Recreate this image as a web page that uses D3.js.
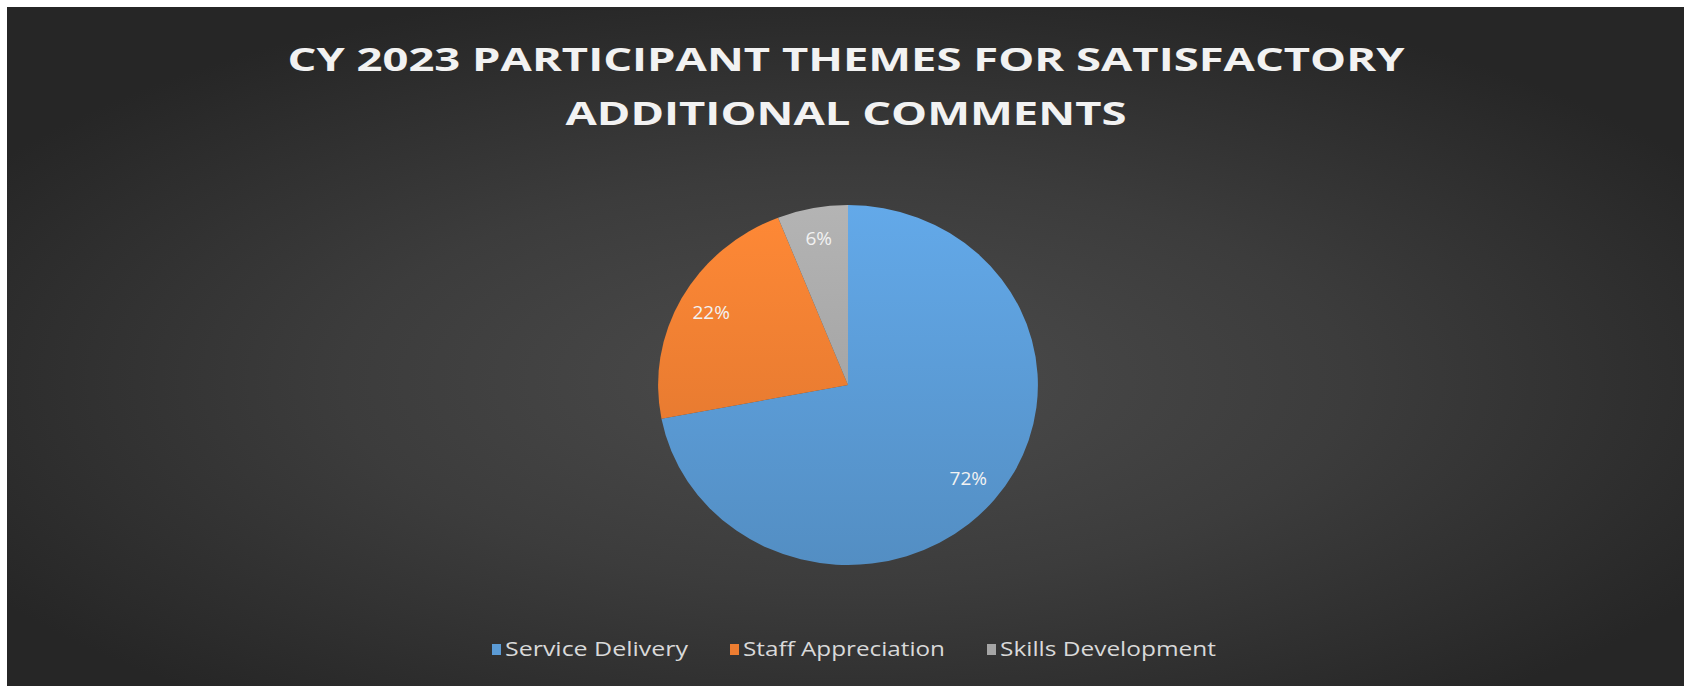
<!DOCTYPE html>
<html>
<head>
<meta charset="utf-8">
<script src="https://cdn.jsdelivr.net/npm/d3@7"></script>
<style>
  html, body { margin: 0; padding: 0; background: #ffffff; }
  svg { display: block; }
</style>
</head>
<body>
<script>
// Chart data
const categories = ["Service Delivery", "Staff Appreciation", "Skills Development"];
const values = [72, 22, 6];
const valueLabels = ["72%", "22%", "6%"];
const titleLines = ["CY 2023 PARTICIPANT THEMES FOR SATISFACTORY", "ADDITIONAL COMMENTS"];
const sliceColors = ["#5b9bd5", "#ed7d31", "#a5a5a5"];

const W = 1684, H = 686;
const svg = d3.select("body").append("svg").attr("width", W).attr("height", H);
const defs = svg.append("defs");

// Dark radial background of the chart area
const bg = defs.append("radialGradient").attr("id", "bgGrad")
  .attr("cx", "50%").attr("cy", "55%").attr("r", "60%");
bg.append("stop").attr("offset", "0%").attr("stop-color", "#4c4c4c");
bg.append("stop").attr("offset", "50%").attr("stop-color", "#3c3c3c");
bg.append("stop").attr("offset", "100%").attr("stop-color", "#262626");

svg.append("rect").attr("x", 7).attr("y", 7).attr("width", W - 7).attr("height", H - 7)
  .attr("fill", "url(#bgGrad)");

// Vertical shading for each slice: lighter at top, deeper at bottom
sliceColors.forEach((c, i) => {
  const g = defs.append("linearGradient").attr("id", "slice" + i)
    .attr("gradientUnits", "userSpaceOnUse")
    .attr("x1", 0).attr("y1", -180).attr("x2", 0).attr("y2", 180);
  g.append("stop").attr("offset", "0%").attr("stop-color", d3.color(c).brighter(0.25));
  g.append("stop").attr("offset", "100%").attr("stop-color", d3.color(c).darker(0.25));
});

// Title
const title = svg.append("g").attr("fill", "#f2f2f2")
  .attr("font-family", "'Open Sans', 'DejaVu Sans', sans-serif")
  .attr("font-weight", 700).attr("text-anchor", "middle");
const titleWidths = [1117, 561];
titleLines.forEach((t, i) => {
  title.append("text")
    .attr("x", 846).attr("y", 71 + i * 54)
    .attr("font-size", 33)
    .attr("textLength", titleWidths[i]).attr("lengthAdjust", "spacingAndGlyphs")
    .text(t);
});

// Pie
const cx = 848, cy = 385, R = 180, sx = 1.055;
const pie = d3.pie().sort(null).value(d => d)(values);
const arc = d3.arc().innerRadius(0).outerRadius(R);
const labelArc = d3.arc().innerRadius(148).outerRadius(148);

const pg = svg.append("g").attr("transform", `translate(${cx},${cy}) scale(${sx},1)`);
pg.selectAll("path.slice").data(pie).join("path")
  .attr("class", "slice")
  .attr("d", arc)
  .attr("fill", (d, i) => `url(#slice${i})`);

// Percentage labels (drawn unscaled so the text keeps its shape)
const lg = svg.append("g").attr("transform", `translate(${cx},${cy})`);
lg.selectAll("text").data(pie).join("text")
  .attr("x", d => labelArc.centroid(d)[0] * sx)
  .attr("y", d => labelArc.centroid(d)[1])
  .attr("dy", "0.3em")
  .attr("text-anchor", "middle")
  .attr("font-family", "'Open Sans', 'DejaVu Sans', sans-serif")
  .attr("font-size", 19)
  .attr("fill", "#f2f2f2")
  .text((d, i) => valueLabels[i]);

// Legend
const legend = svg.append("g").attr("font-family", "'Open Sans', 'DejaVu Sans', sans-serif")
  .attr("font-size", 20).attr("fill", "#d9d9d9");
const textWidths = [183, 202, 216];
const gaps = 42;
const swatch = 9, swatchGap = 4;
const totalW = d3.sum(textWidths) + categories.length * (swatch + swatchGap) + gaps * (categories.length - 1);
let lx = 854 - totalW / 2;
const ly = 649;
categories.forEach((c, i) => {
  legend.append("rect").attr("x", lx).attr("y", ly - 5).attr("width", swatch).attr("height", 11)
    .attr("fill", sliceColors[i]);
  legend.append("text").attr("x", lx + swatch + swatchGap).attr("y", ly).attr("dy", "0.35em")
    .attr("textLength", textWidths[i]).attr("lengthAdjust", "spacingAndGlyphs")
    .text(c);
  lx += swatch + swatchGap + textWidths[i] + gaps;
});
</script>
</body>
</html>
